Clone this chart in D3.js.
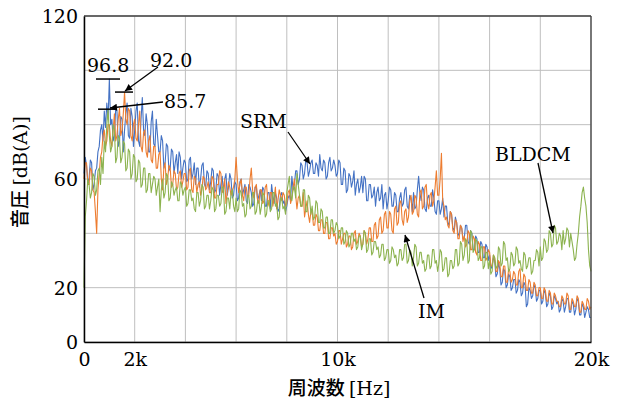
<!DOCTYPE html>
<html>
<head>
<meta charset="utf-8">
<script src="https://cdn.jsdelivr.net/npm/d3@7"></script>
<style>
  body { margin: 0; background: #fff; }
  svg text { font-family: "DejaVu Serif", serif; }
</style>
</head>
<body>
<svg id="chart" width="617" height="403"></svg>
<script>
// Frequency axis: one sample every 50 Hz, 0 .. 20 kHz
const freqStep = 50;

// SRM (blue), dB(A) - one row per kHz
const srm = [
  62, 68, 65, 59, 60, 67, 66, 56, 58, 63, 64, 70, 72, 78, 80, 74, 85, 79, 88, 82,
  96.8, 80, 82, 74, 76, 86, 85, 72, 74, 83, 82, 70, 78, 84, 88, 76, 75, 86, 83, 72,
  78, 85, 88, 74, 72, 82, 90, 78, 76, 84, 80, 70, 70, 81, 85, 73, 72, 82, 76, 70,
  70, 76, 74, 64, 66, 73, 72, 63, 64, 71, 70, 62, 66, 69, 62, 70, 68, 60, 64, 67,
  66, 59, 60, 67, 68, 60, 62, 66, 58, 64, 64, 57, 60, 65, 66, 58, 57, 63, 62, 56,
  59, 64, 63, 55, 56, 62, 61, 54, 58, 61, 55, 60, 62, 54, 57, 62, 60, 53, 54, 59,
  58, 52, 53, 59, 60, 54, 56, 58, 52, 51, 58, 57, 55, 50, 51, 57, 57, 52, 54, 56,
  52, 57, 56, 50, 50, 55, 55, 49, 58, 54, 51, 55, 53, 48, 49, 54, 55, 51, 52, 48,
  50, 53, 54, 52, 61, 56, 58, 63, 63, 58, 60, 66, 65, 60, 62, 67, 66, 61, 63, 66,
  67, 62, 62, 66, 65, 61, 69, 64, 63, 67, 66, 60, 61, 66, 68, 63, 64, 67, 65, 61,
  62, 67, 66, 58, 58, 64, 63, 55, 56, 62, 61, 57, 59, 63, 54, 58, 60, 55, 57, 61,
  55, 61, 60, 52, 52, 58, 58, 53, 54, 57, 50, 55, 57, 52, 53, 58, 49, 54, 55, 49,
  52, 57, 56, 50, 50, 55, 54, 48, 48, 53, 55, 50, 51, 56, 57, 50, 49, 54, 53, 48,
  55, 49, 50, 56, 61, 55, 52, 57, 56, 49, 48, 53, 54, 50, 50, 56, 53, 48, 47, 52,
  52, 47, 49, 53, 46, 50, 50, 44, 43, 48, 47, 42, 41, 46, 44, 40, 39, 43, 42, 38,
  38, 43, 43, 37, 36, 41, 40, 34, 34, 39, 38, 33, 33, 37, 36, 31, 31, 36, 35, 30,
  32, 27, 28, 31, 30, 24, 25, 29, 27, 21, 22, 27, 26, 20, 21, 25, 24, 19, 20, 23,
  23, 18, 19, 23, 22, 17, 18, 22, 21, 13, 14, 20, 19, 16, 17, 21, 20, 15, 16, 19,
  19, 14, 15, 19, 18, 13, 14, 18, 17, 12, 13, 17, 16, 14, 15, 11, 12, 16, 15, 11,
  13, 16, 16, 11, 11, 15, 14, 10, 12, 16, 15, 10, 10, 14, 13, 9, 11, 13, 12, 9,
  9
];

// IM (orange)
const im = [
  60, 66, 66, 58, 58, 64, 63, 56, 55, 48, 40, 56, 62, 68, 70, 76, 78, 72, 74, 80,
  80, 74, 72, 78, 84, 74, 76, 82, 86, 76, 78, 84, 92.0, 82, 80, 86, 85, 76, 74, 80,
  82, 75, 74, 80, 85, 72, 70, 77, 78, 70, 68, 74, 76, 67, 66, 72, 72, 64, 64, 69,
  70, 60, 56, 64, 66, 58, 60, 65, 64, 57, 58, 63, 62, 56, 57, 62, 63, 57, 59, 62,
  62, 56, 57, 63, 64, 56, 55, 61, 60, 55, 58, 59, 54, 56, 61, 60, 56, 57, 59, 55,
  55, 61, 60, 53, 53, 58, 58, 63, 62, 55, 56, 60, 51, 55, 59, 57, 54, 56, 57, 60,
  68, 60, 55, 58, 60, 54, 52, 57, 57, 53, 54, 60, 64, 56, 53, 57, 58, 52, 51, 56,
  56, 51, 52, 57, 58, 52, 50, 55, 55, 50, 53, 57, 49, 52, 56, 54, 52, 55, 54, 50,
  51, 55, 56, 51, 53, 57, 60, 54, 49, 53, 54, 50, 50, 55, 46, 49, 52, 47, 44, 48,
  48, 43, 43, 47, 46, 41, 41, 45, 45, 40, 40, 44, 44, 38, 38, 42, 42, 39, 40, 36,
  37, 41, 41, 36, 38, 40, 40, 35, 36, 39, 39, 34, 35, 40, 41, 36, 37, 40, 39, 35,
  36, 41, 40, 36, 38, 42, 42, 37, 37, 43, 44, 38, 39, 45, 46, 40, 41, 47, 48, 42,
  42, 48, 47, 41, 40, 49, 50, 43, 44, 51, 52, 45, 43, 48, 49, 44, 46, 52, 54, 47,
  48, 54, 53, 47, 46, 55, 56, 49, 50, 57, 58, 51, 49, 54, 55, 50, 52, 57, 63, 54,
  54, 60, 69.5, 52, 50, 45, 46, 43, 42, 48, 47, 41, 40, 45, 44, 38, 38, 43, 42, 37,
  39, 35, 36, 41, 40, 34, 34, 39, 38, 33, 32, 37, 36, 30, 30, 35, 35, 30, 31, 34,
  33, 28, 28, 32, 31, 26, 26, 30, 29, 24, 24, 28, 28, 22, 22, 27, 26, 22, 23, 26,
  25, 21, 21, 26, 27, 20, 20, 25, 24, 19, 19, 23, 22, 18, 18, 22, 21, 17, 17, 20,
  20, 16, 16, 20, 19, 15, 15, 19, 18, 14, 14, 18, 17, 15, 15, 13, 13, 17, 16, 14,
  14, 18, 17, 12, 12, 16, 15, 13, 13, 17, 16, 11, 11, 15, 14, 12, 12, 16, 15, 12,
  13
];

// BLDCM (green)
const bldcm = [
  20, 46, 52, 60, 58, 53, 55, 62, 61, 54, 56, 63, 64, 58, 68, 62, 74, 70, 80, 85.7,
  76, 70, 72, 80, 78, 66, 68, 76, 75, 66, 68, 74, 73, 63, 64, 71, 70, 60, 62, 69,
  68, 59, 60, 67, 66, 57, 58, 64, 64, 55, 56, 62, 62, 55, 58, 61, 60, 54, 57, 60,
  48, 56, 60, 53, 55, 62, 61, 52, 53, 59, 58, 54, 56, 57, 52, 52, 59, 58, 54, 56,
  57, 50, 51, 56, 56, 52, 53, 49, 48, 55, 55, 50, 52, 58, 57, 49, 50, 54, 54, 49,
  52, 57, 56, 48, 49, 54, 54, 50, 51, 57, 57, 47, 48, 53, 53, 49, 55, 56, 50, 48,
  53, 48, 49, 56, 55, 50, 51, 46, 47, 54, 54, 49, 50, 55, 55, 47, 48, 52, 52, 47,
  50, 55, 54, 46, 47, 52, 52, 48, 49, 55, 55, 50, 51, 45, 46, 53, 53, 49, 50, 47,
  55, 58, 61, 54, 52, 57, 57, 53, 62, 58, 54, 50, 50, 56, 56, 48, 48, 54, 53, 47,
  50, 45, 46, 52, 51, 44, 44, 49, 48, 42, 42, 46, 46, 40, 40, 45, 45, 40, 41, 44,
  43, 38, 39, 42, 42, 36, 37, 41, 40, 35, 36, 40, 40, 37, 38, 34, 35, 39, 39, 34,
  36, 41, 40, 33, 34, 38, 38, 32, 33, 37, 37, 34, 35, 31, 32, 36, 36, 30, 31, 34,
  34, 29, 30, 35, 34, 31, 32, 28, 29, 34, 34, 30, 31, 36, 36, 29, 30, 34, 33, 28,
  31, 36, 35, 28, 29, 33, 33, 29, 30, 26, 27, 32, 32, 27, 28, 34, 34, 29, 30, 26,
  29, 34, 33, 26, 27, 31, 31, 24, 25, 30, 30, 27, 28, 34, 34, 28, 29, 37, 36, 30,
  32, 38, 37, 29, 30, 41, 40, 33, 34, 38, 37, 30, 31, 35, 35, 27, 28, 33, 33, 27,
  30, 25, 26, 32, 31, 27, 28, 35, 34, 28, 29, 37, 36, 30, 31, 26, 27, 33, 32, 28,
  29, 35, 34, 29, 30, 27, 26, 33, 32, 27, 28, 31, 31, 25, 26, 30, 30, 34, 33, 28,
  35, 30, 31, 38, 37, 33, 34, 41, 40, 35, 36, 43, 42, 36, 37, 40, 39, 34, 41, 36,
  38, 42, 41, 35, 40, 37, 34, 30, 31, 36, 40, 46, 50, 55, 57, 53, 50, 44, 34, 28,
  26
];

const series = [
  { name: "SRM", values: srm, color: "#4472C4" },
  { name: "IM", values: im, color: "#ED7D31" },
  { name: "BLDCM", values: bldcm, color: "#8CB34F" }
];

const yTicks = [0, 20, 40, 60, 80, 100, 120];
const yLabels = [0, 20, 60, 120];
const xTicks = [0, 2000, 4000, 6000, 8000, 10000, 12000, 14000, 16000, 18000, 20000];
const xLabels = { 0: "0", 2000: "2k", 10000: "10k", 20000: "20k" };

// Peak levels marked on the chart
const peaks = [
  { value: 96.8, label: "96.8" },
  { value: 92.0, label: "92.0" },
  { value: 85.7, label: "85.7" }
];

const svg = d3.select("#chart");
const margin = { left: 84, top: 16, right: 26, bottom: 61 };
const width = 617 - margin.left - margin.right;
const height = 403 - margin.top - margin.bottom;

const g = svg.append("g").attr("transform", `translate(${margin.left},${margin.top})`);

const x = d3.scaleLinear().domain([0, 20000]).range([0, width]);
const y = d3.scaleLinear().domain([0, 120]).range([height, 0]);

// Grid
g.append("g")
  .selectAll("line")
  .data(xTicks)
  .enter().append("line")
  .attr("x1", d => x(d)).attr("x2", d => x(d))
  .attr("y1", 0).attr("y2", height)
  .attr("stroke", "#bfbfbf").attr("stroke-width", 1);

g.append("g")
  .selectAll("line")
  .data(yTicks)
  .enter().append("line")
  .attr("x1", 0).attr("x2", width)
  .attr("y1", d => y(d)).attr("y2", d => y(d))
  .attr("stroke", "#bfbfbf").attr("stroke-width", 1);

// Series lines
const line = d3.line()
  .x((d, i) => x(i * freqStep))
  .y(d => y(d));

g.append("g")
  .selectAll("path")
  .data(series)
  .enter().append("path")
  .attr("fill", "none")
  .attr("stroke", d => d.color)
  .attr("stroke-width", 1.1)
  .attr("stroke-linejoin", "round")
  .attr("d", d => line(d.values));

// Frame: top/right grey, left/bottom black
g.append("line").attr("x1", 0).attr("x2", width).attr("y1", 0).attr("y2", 0)
  .attr("stroke", "#404040").attr("stroke-width", 1.3);
g.append("line").attr("x1", width).attr("x2", width).attr("y1", 0).attr("y2", height)
  .attr("stroke", "#404040").attr("stroke-width", 1.3);

const xAxis = g.append("g")
  .attr("transform", `translate(0,${height})`)
  .call(d3.axisBottom(x).tickValues(xTicks).tickSize(0).tickPadding(10)
    .tickFormat(d => xLabels[d] || ""));
const yAxis = g.append("g")
  .call(d3.axisLeft(y).tickValues(yLabels).tickSize(0).tickPadding(6));

[xAxis, yAxis].forEach(a => {
  a.select(".domain").attr("stroke", "#000").attr("stroke-width", 1.5);
  a.selectAll("text").attr("font-family", "DejaVu Serif").attr("font-size", "19px").attr("fill", "#000");
});
xAxis.selectAll("text").attr("dy", "0.75em");
yAxis.selectAll("text").attr("dy", "0.36em");

// Arrow marker
svg.append("defs").append("marker")
  .attr("id", "arrow")
  .attr("viewBox", "0 0 10 10")
  .attr("refX", 10).attr("refY", 5)
  .attr("markerWidth", 9).attr("markerHeight", 7)
  .attr("markerUnits", "userSpaceOnUse")
  .attr("orient", "auto")
  .append("path").attr("d", "M0,0 L10,5 L0,10 Z").attr("fill", "#000");

const ann = g.append("g").attr("font-size", "19px").attr("fill", "#000");

// Peak bars (short horizontal marks at each peak level)
const barX = [[12, 36], [31, 49], [14, 31]];
peaks.forEach((p, i) => {
  ann.append("line")
    .attr("x1", barX[i][0]).attr("x2", barX[i][1])
    .attr("y1", y(p.value)).attr("y2", y(p.value))
    .attr("stroke", "#000").attr("stroke-width", 1.5);
});

ann.append("text").attr("x", 3).attr("y", y(peaks[0].value) - 7).text(peaks[0].label);
ann.append("text").attr("x", 66).attr("y", y(peaks[1].value) - 25).text(peaks[1].label);
ann.append("text").attr("x", 80).attr("y", y(peaks[2].value) - 1).text(peaks[2].label);

function arrow(x1, y1, x2, y2) {
  ann.append("line")
    .attr("x1", x1).attr("y1", y1).attr("x2", x2).attr("y2", y2)
    .attr("stroke", "#000").attr("stroke-width", 1.3)
    .attr("marker-end", "url(#arrow)");
}

arrow(74, 51, 41, 75);
arrow(79, 86, 26, 92);

// Series labels
ann.append("text").attr("x", 156).attr("y", 112).text("SRM");
arrow(204, 116, 226, 148);

ann.append("text").attr("x", 411).attr("y", 145).text("BLDCM");
arrow(454, 147, 469, 217);

ann.append("text").attr("x", 334).attr("y", 302).text("IM");
arrow(340, 282, 321, 219);

// Axis titles
svg.append("text")
  .attr("x", 339).attr("y", 395)
  .attr("text-anchor", "middle")
  .attr("font-size", "19px")
  .call(t => {
    t.append("tspan").attr("font-family", "Noto Sans CJK JP").attr("font-weight", 500).text("周波数 ");
    t.append("tspan").attr("font-family", "DejaVu Serif").text("[Hz]");
  });

svg.append("text")
  .attr("transform", "translate(27,172) rotate(-90)")
  .attr("text-anchor", "middle")
  .attr("font-size", "19px")
  .call(t => {
    t.append("tspan").attr("font-family", "Noto Sans CJK JP").attr("font-weight", 500).text("音圧 ");
    t.append("tspan").attr("font-family", "DejaVu Serif").text("[dB(A)]");
  });
</script>
</body>
</html>
